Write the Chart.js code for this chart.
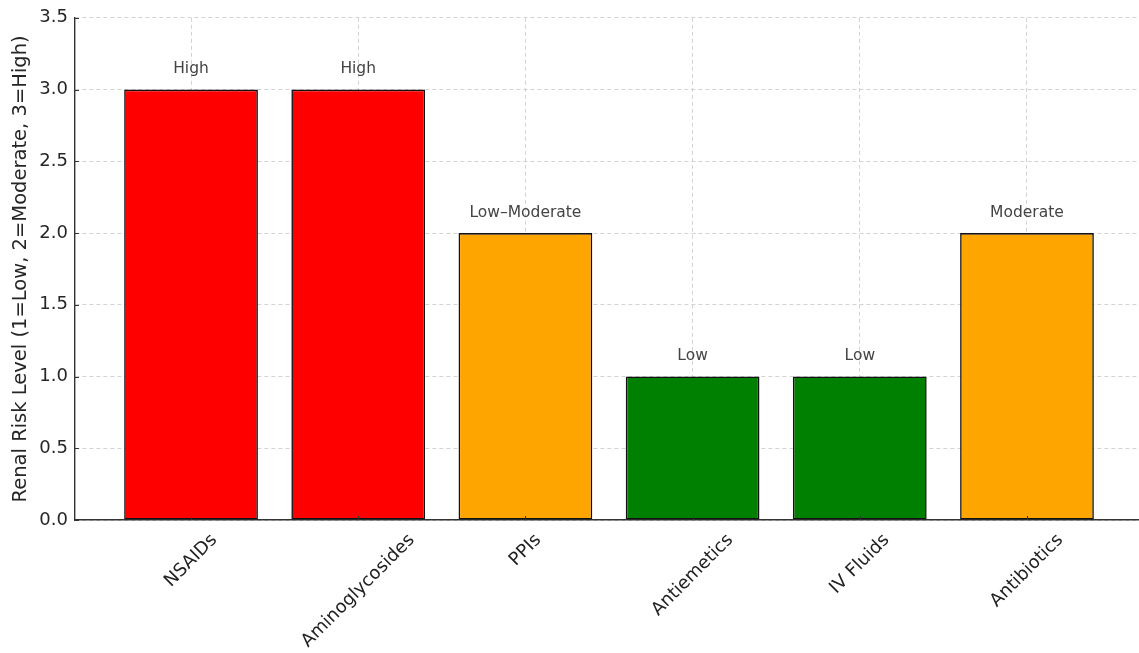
<!DOCTYPE html>
<html>
<head>
<meta charset="utf-8">
<script src="https://cdn.jsdelivr.net/npm/chart.js@4.4.1/dist/chart.umd.min.js"></script>
<style>
  html, body { margin: 0; padding: 0; background: #ffffff; overflow: hidden; }
  #wrap { width: 1139px; height: 653px; position: relative; }
</style>
</head>
<body>
<div id="wrap"><canvas id="chart"></canvas></div>
<script>
// Drug classes and their renal risk scores
const categories = ["NSAIDs", "Aminoglycosides", "PPIs", "Antiemetics", "IV Fluids", "Antibiotics"];
const riskValues = [3, 3, 2, 1, 1, 2];
const riskLabels = ["High", "High", "Low\u2013Moderate", "Low", "Low", "Moderate"];
const barColors = ["#ff0000", "#ff0000", "#ffa500", "#008000", "#008000", "#ffa500"];
const yTicks = [0, 0.5, 1, 1.5, 2, 2.5, 3, 3.5];

const FONT = "'DejaVu Sans', sans-serif";

// Value annotations above each bar
const barValueLabels = {
  id: 'barValueLabels',
  afterDatasetsDraw(chart) {
    const { ctx, scales } = chart;
    ctx.save();
    ctx.font = "15.5px " + FONT;
    ctx.fillStyle = "#444444";
    ctx.textAlign = "center";
    ctx.textBaseline = "bottom";
    riskValues.forEach((v, i) => {
      const x = scales.x.getPixelForValue(i);
      const y = scales.y.getPixelForValue(v + 0.1);
      ctx.fillText(riskLabels[i], x, y + 2);
    });
    ctx.restore();
  }
};

// Short tick marks pointing into the plot area
const inwardTicks = {
  id: 'inwardTicks',
  afterDraw(chart) {
    const { ctx, scales } = chart;
    const len = 4;
    ctx.save();
    ctx.strokeStyle = "#333333";
    ctx.lineWidth = 1;
    ctx.beginPath();
    yTicks.forEach(v => {
      const y = Math.round(scales.y.getPixelForValue(v)) + 0.5;
      ctx.moveTo(scales.y.right, y);
      ctx.lineTo(scales.y.right + len, y);
    });
    categories.forEach((_, i) => {
      const x = Math.round(scales.x.getPixelForValue(i)) + 0.5;
      ctx.moveTo(x, scales.x.top);
      ctx.lineTo(x, scales.x.top - len);
    });
    ctx.stroke();
    ctx.restore();
  }
};

// Category names rotated 45°, centred under each tick
const rotatedCategoryLabels = {
  id: 'rotatedCategoryLabels',
  afterDraw(chart) {
    const { ctx, scales } = chart;
    const top = scales.x.top + 11;
    ctx.save();
    ctx.font = "18px " + FONT;
    ctx.fillStyle = "#222222";
    ctx.textAlign = "center";
    ctx.textBaseline = "middle";
    const h = 18;
    categories.forEach((name, i) => {
      const w = ctx.measureText(name).width;
      const half = (w + h) * Math.SQRT1_2 / 2;
      const x = scales.x.getPixelForValue(i);
      ctx.save();
      ctx.translate(x, top + half);
      ctx.rotate(-Math.PI / 4);
      ctx.fillText(name, 0, 0);
      ctx.restore();
    });
    ctx.restore();
  }
};

const ctx = document.getElementById('chart');
new Chart(ctx, {
  type: 'bar',
  data: {
    datasets: [{
      data: riskValues.map((v, i) => ({ x: i, y: v })),
      backgroundColor: barColors,
      borderColor: "#111111",
      borderWidth: 1.6,
      borderSkipped: false,
      barPercentage: 0.8,
      categoryPercentage: 1.0
    }]
  },
  options: {
    responsive: true,
    maintainAspectRatio: false,
    animation: false,
    layout: { padding: { top: 17, right: 0, left: 0, bottom: 0 } },
    plugins: {
      legend: { display: false },
      tooltip: { enabled: false }
    },
    scales: {
      x: {
        type: 'linear',
        min: -0.694,
        max: 5.67,
        offset: false,
        z: 1,
        afterBuildTicks(scale) {
          scale.ticks = categories.map((_, i) => ({ value: i }));
        },
        afterFit(scale) { scale.height = 133; },
        ticks: { display: false },
        grid: {
          offset: false,
          drawTicks: false,
          color: "rgba(176,176,176,0.7)",
          lineWidth: 0.8
        },
        border: { display: true, color: "#333333", width: 1.4, dash: [4, 3] }
      },
      y: {
        min: 0,
        max: 3.5,
        z: 1,
        afterBuildTicks(scale) {
          scale.ticks = yTicks.map(v => ({ value: v }));
        },
        afterFit(scale) { scale.width = 75; },
        ticks: {
          font: { family: FONT, size: 18 },
          color: "#262626",
          padding: 7,
          callback: v => Number(v).toFixed(1)
        },
        grid: {
          drawTicks: false,
          color: "rgba(176,176,176,0.7)",
          lineWidth: 0.8
        },
        border: { display: true, color: "#333333", width: 1.4, dash: [4, 3] },
        title: {
          display: true,
          text: "Renal Risk Level (1=Low, 2=Moderate, 3=High)",
          font: { family: FONT, size: 19.5 },
          color: "#262626",
          padding: { top: 9, bottom: 0 }
        }
      }
    }
  },
  plugins: [barValueLabels, inwardTicks, rotatedCategoryLabels]
});
</script>
</body>
</html>
